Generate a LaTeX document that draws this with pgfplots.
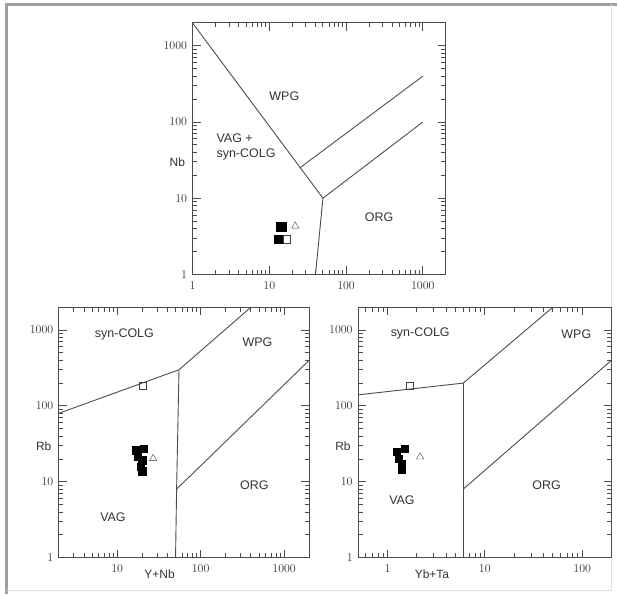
\documentclass[border=0pt]{standalone}
\usepackage{fontspec}
\setmainfont{Liberation Sans}
\usepackage{pgfplots}
\pgfplotsset{compat=1.18}
\definecolor{ln}{gray}{0.3}
\definecolor{tx}{gray}{0.2}
\newcommand{\lbl}{\fontsize{12.5}{14.5}\selectfont}
\newcommand{\tkl}{\fontsize{12}{14}\selectfont}
\pgfplotsset{every axis/.append style={
  xmode=log, ymode=log, scale only axis, anchor=south west,
  log ticks with fixed point,
  /pgf/number format/1000 sep={},
  tick pos=both, tick align=inside,
  axis line style={draw=ln, line width=0.9pt},
  major tick length=8pt, minor tick length=4.5pt,
  every tick/.append style={draw=black!70, line width=0.9pt},
  x tick label style={font=\tkl, text=tx, yshift=-4pt},
  y tick label style={font=\tkl, text=tx, xshift=-2pt},
  ymin=1, ymax=2000}}
\begin{document}
\begin{tikzpicture}
\draw[line width=3pt, gray!75] (7pt,-595pt) -- (7pt,-4.5pt) -- (618pt,-4.5pt);
\draw[line width=0.8pt, gray!25] (613pt,-4.5pt) -- (613pt,-592pt) -- (7pt,-592pt);
\path (0pt,0pt) (618pt,-595pt);

% ---------- top: Nb vs Y ----------
\begin{axis}[at={(193pt,-275pt)}, width=254pt, height=252pt,
  xmin=1, xmax=2000]
\addplot[ln, line width=0.9pt] coordinates {(1,2000) (50,10) (40,1)};
\addplot[ln, line width=0.9pt] coordinates {(25,25) (1000,400)};
\addplot[ln, line width=0.9pt] coordinates {(50,10) (1000,100)};
\addplot[only marks, mark=square*, mark size=4.2pt, mark options={fill=black, draw=black}] coordinates {(13.8,4.2) (14.8,4.2) (13.1,2.9)};
\addplot[only marks, mark=square, mark size=3.6pt, mark options={draw=black!75, fill=white}] coordinates {(16.8,2.9)};
\addplot[only marks, mark=triangle, mark size=4.2pt, mark options={draw=black!75}] coordinates {(21.8,4.3)};
\node[font=\lbl, text=tx] at (axis cs:15.7,219) {WPG};
\node[font=\lbl, text=tx, anchor=west, align=left] at (axis cs:1.85,47) {VAG +\\syn-COLG};
\node[font=\lbl, text=tx] at (axis cs:269,5.6) {ORG};
\end{axis}
\node[font=\tkl, text=tx, anchor=east] at (189pt,-163pt) {Nb};

% ---------- bottom left: Rb vs Y+Nb ----------
\begin{axis}[at={(59pt,-559pt)}, width=251pt, height=251pt,
  xmin=2, xmax=2000]
\addplot[ln, line width=0.9pt] coordinates {(2,80) (55,300) (400,2000)};
\addplot[ln, line width=0.9pt] coordinates {(55,300) (51.5,8) (50,1)};
\addplot[ln, line width=0.9pt] coordinates {(51.5,8) (2000,400)};
\addplot[only marks, mark=square*, mark size=3.6pt, mark options={fill=black, draw=black}] coordinates {(16.8,26.1) (20.6,27.5) (17.6,21.3) (19.9,19.3) (19.3,15.7) (19.9,13.8)};
\addplot[only marks, mark=square, mark size=3.6pt, mark options={draw=black!75, fill=white}] coordinates {(20.2,185)};
\addplot[only marks, mark=triangle, mark size=4.2pt, mark options={draw=black!75}] coordinates {(27,20.3)};
\node[font=\lbl, text=tx] at (axis cs:12.2,870) {syn-COLG};
\node[font=\lbl, text=tx] at (axis cs:480,700) {WPG};
\node[font=\lbl, text=tx] at (axis cs:440,9.0) {ORG};
\node[font=\lbl, text=tx] at (axis cs:8.9,3.46) {VAG};
\end{axis}
\node[font=\tkl, text=tx, anchor=east] at (55pt,-447pt) {Rb};
\node[font=\tkl, text=tx] at (160pt,-576pt) {Y+Nb};

% ---------- bottom right: Rb vs Yb+Ta ----------
\begin{axis}[at={(359pt,-559pt)}, width=254pt, height=251pt,
  xmin=0.5, xmax=200]
\addplot[ln, line width=0.9pt] coordinates {(0.5,140) (6,200) (50,2000)};
\addplot[ln, line width=0.9pt] coordinates {(6,200) (6,1)};
\addplot[ln, line width=0.9pt] coordinates {(6,8) (200,400)};
\addplot[only marks, mark=square*, mark size=3.6pt, mark options={fill=black, draw=black}] coordinates {(1.25,24.8) (1.50,27.5) (1.30,20.3) (1.41,17.4) (1.39,14.3)};
\addplot[only marks, mark=square, mark size=3.6pt, mark options={draw=black!75, fill=white}] coordinates {(1.69,187)};
\addplot[only marks, mark=triangle, mark size=4.2pt, mark options={draw=black!75}] coordinates {(2.17,21.3)};
\node[font=\lbl, text=tx] at (axis cs:2.17,890) {syn-COLG};
\node[font=\lbl, text=tx] at (axis cs:87,890) {WPG};
\node[font=\lbl, text=tx] at (axis cs:43,9.0) {ORG};
\node[font=\lbl, text=tx] at (axis cs:1.41,5.7) {VAG};
\end{axis}
\node[font=\tkl, text=tx, anchor=east] at (355pt,-447pt) {Rb};
\node[font=\tkl, text=tx] at (433pt,-576pt) {Yb+Ta};
\end{tikzpicture}
\end{document}
